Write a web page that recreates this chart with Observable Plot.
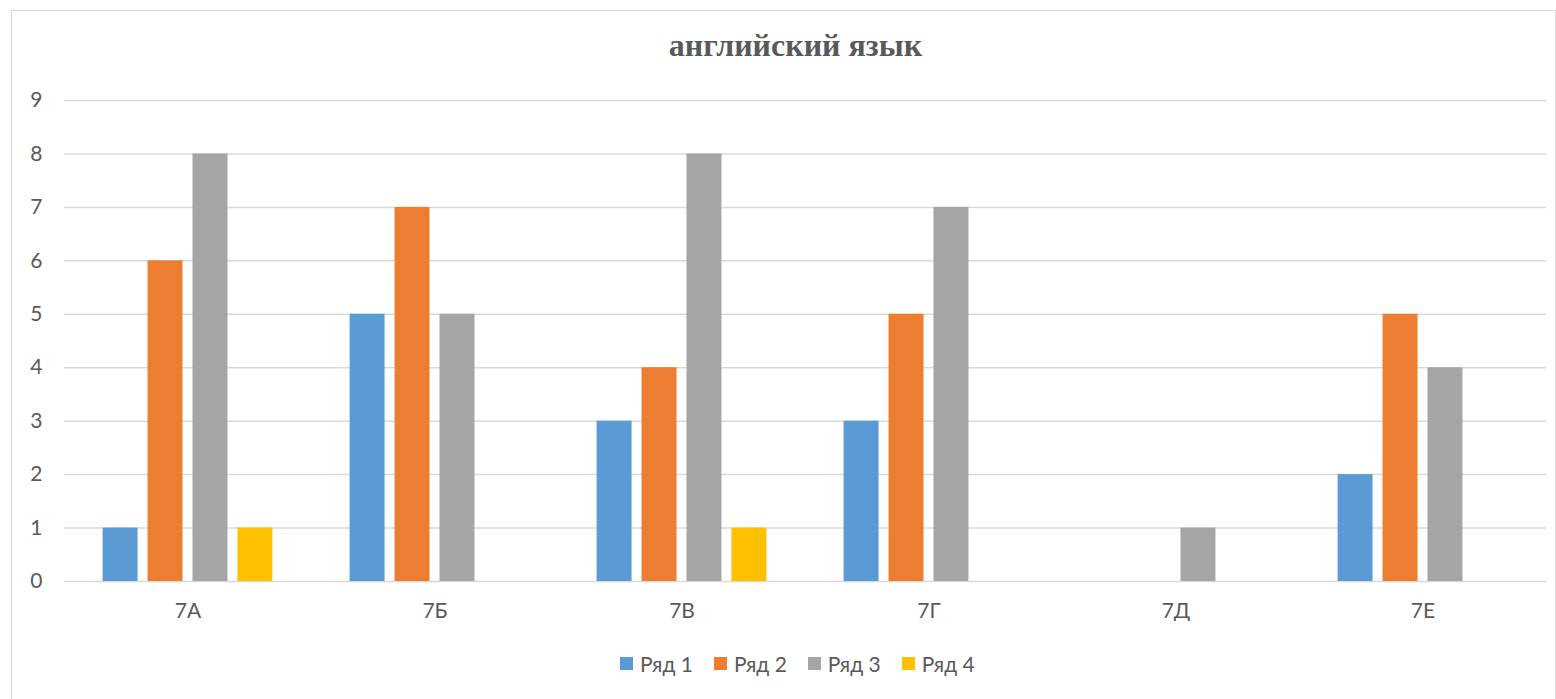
<!DOCTYPE html>
<html>
<head>
<meta charset="utf-8">
<script src="https://cdn.jsdelivr.net/npm/d3@7"></script>
<script src="https://cdn.jsdelivr.net/npm/@observablehq/plot@0.6"></script>
<style>
  html, body { margin: 0; padding: 0; background: #fff; width: 1556px; height: 699px; overflow: hidden; }
  #frame { position: absolute; left: 11px; top: 10px; width: 1543px; height: 720px; border: 1px solid #d9d9d9; box-sizing: content-box; }
  #title { position: absolute; left: 0; width: 1591px; top: 27px; text-align: center; font-family: "Liberation Serif", "Times New Roman", serif; font-weight: bold; font-size: 32px; color: #595959; white-space: nowrap; }
  #chart { position: absolute; left: 12px; top: 80px; }
  #legend { position: absolute; left: 620px; top: 651px; display: flex; align-items: center; font-family: Lato, sans-serif; font-size: 21px; color: #595959; }
  .item { display: flex; align-items: center; margin-right: 21px; }
  .sw { width: 13px; height: 13px; margin-right: 7px; }
</style>
</head>
<body>
<div id="frame"></div>
<div id="title">английский язык</div>
<div id="chart"></div>
<div id="legend"></div>
<script>
const categories = ["7А", "7Б", "7В", "7Г", "7Д", "7Е"];
const seriesNames = ["Ряд 1", "Ряд 2", "Ряд 3", "Ряд 4"];
const row1 = [1, 5, 3, 3, 0, 2];
const row2 = [6, 7, 4, 5, 0, 5];
const row3 = [8, 5, 8, 7, 1, 4];
const row4 = [1, 0, 1, 0, 0, 0];
const yTicks = [0, 1, 2, 3, 4, 5, 6, 7, 8, 9];
const colors = ["#5B9BD5", "#ED7D31", "#A5A5A5", "#FFC000"];

const rows = [row1, row2, row3, row4];
const data = [];
categories.forEach((c, i) => {
  seriesNames.forEach((s, j) => {
    data.push({cat: c, series: s, value: rows[j][i]});
  });
});
const bars = data.filter(d => d.value > 0);

const chart = Plot.plot({
  width: 1543,
  height: 541,
  marginLeft: 51,
  marginRight: 8,
  marginTop: 20,
  marginBottom: 40,
  style: {fontFamily: "Lato, sans-serif", fontSize: "21px", color: "#595959", background: "transparent"},
  fx: {domain: categories, padding: 0, label: null},
  x: {domain: seriesNames, paddingInner: 10/45, paddingOuter: 0.859, round: false, axis: null},
  y: {domain: [0, 9], label: null},
  color: {domain: seriesNames, range: colors},
  marks: [
    Plot.gridY(yTicks, {stroke: "#d9d9d9", strokeOpacity: 1, strokeWidth: 1.5}),
    Plot.barY(bars, {fx: "cat", x: "series", y: "value", fill: "series", inset: 0}),
    Plot.axisY({ticks: yTicks, tickSize: 0, tickPadding: 22, fill: "#595959", fontSize: 21, tickFormat: d => String(d), label: null}),
    Plot.axisFx({tickSize: 0, tickPadding: 22, fill: "#595959", fontSize: 21, label: null, anchor: "bottom"})
  ]
});
document.getElementById("chart").appendChild(chart);

const legend = document.getElementById("legend");
seriesNames.forEach((s, i) => {
  const it = document.createElement("div");
  it.className = "item";
  const sw = document.createElement("div");
  sw.className = "sw";
  sw.style.background = colors[i];
  const t = document.createElement("span");
  t.textContent = s;
  it.appendChild(sw);
  it.appendChild(t);
  legend.appendChild(it);
});
</script>
</body>
</html>
